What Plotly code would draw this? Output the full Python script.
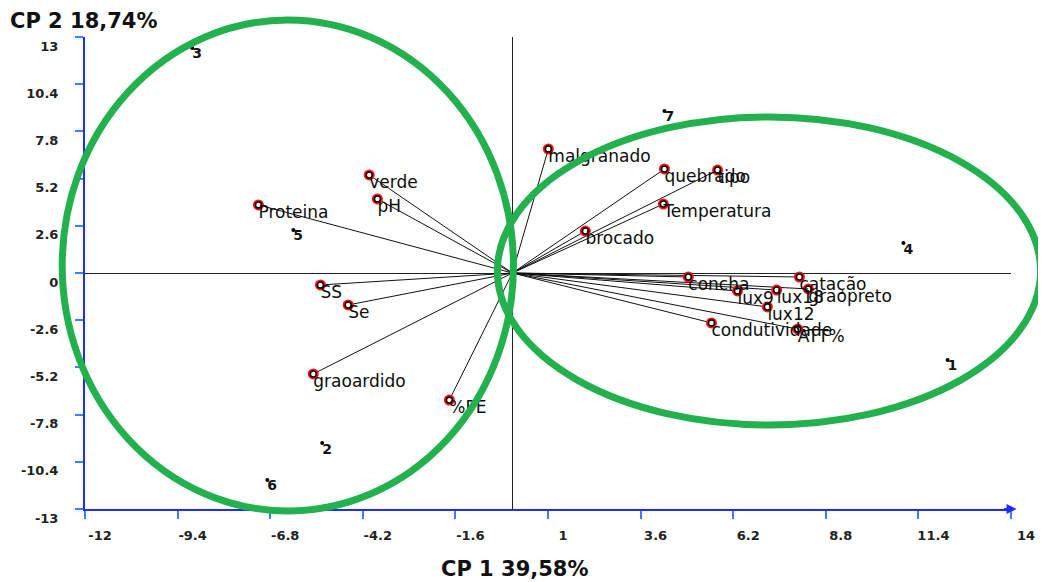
import plotly.graph_objects as go

# ---- data ----
var_names = ["malgranado", "quebrado", "tipo", "Temperatura", "brocado", "concha",
             "catação", "lux9", "lux18", "graopreto", "lux12", "condutividade", "ATT%",
             "verde", "pH", "Proteina", "SS", "Se", "graoardido", "%PE"]
var_cp1 = [1.01, 4.27, 5.76, 4.24, 2.05, 4.94,
           8.06, 6.32, 7.42, 8.31, 7.16, 5.59, 8.01,
           -4.02, -3.79, -7.13, -5.39, -4.61, -5.59, -1.77]
var_cp2 = [6.83, 5.73, 5.67, 3.80, 2.31, -0.22,
           -0.22, -0.99, -0.94, -0.88, -1.87, -2.75, -3.09,
           5.40, 4.08, 3.75, -0.66, -1.76, -5.56, -7.00]

obs_names = ["1", "2", "3", "4", "5", "6", "7"]
obs_cp1 = [12.22, -5.34, -8.99, 10.98, -6.15, -6.88, 4.27]
obs_cp2 = [-4.79, -9.37, 12.40, 1.65, 2.37, -11.40, 8.93]

tick_vals_x = [-12, -9.4, -6.8, -4.2, -1.6, 1, 3.6, 6.2, 8.8, 11.4, 14]
tick_text_x = ["-12", "-9.4", "-6.8", "-4.2", "-1.6", "1", "3.6", "6.2", "8.8", "11.4", "14"]
tick_vals_y = [-13, -10.4, -7.8, -5.2, -2.6, 0, 2.6, 5.2, 7.8, 10.4, 13]
tick_text_y = ["-13", "-10.4", "-7.8", "-5.2", "-2.6", "0", "2.6", "5.2", "7.8", "10.4", "13"]

x_range = [-12, 14]
y_range = [-13, 13]

# group ellipses (data units: x0, x1, y0, y1)
ellipses = [(-12.64, 0.03, -13.11, 13.94), (-0.42, 14.83, -8.37, 8.60)]

GREEN = "rgb(34,177,76)"
BLUE = "#1f2cff"

fig = go.Figure()

# loading vectors from the origin
lx, ly = [], []
for vx, vy in zip(var_cp1, var_cp2):
    lx += [0, vx, None]
    ly += [0, vy, None]
fig.add_trace(go.Scatter(x=lx, y=ly, mode="lines",
                         line=dict(color="#111111", width=1), hoverinfo="skip",
                         showlegend=False))

# variable markers: red halo + black ring + white centre
fig.add_trace(go.Scatter(x=var_cp1, y=var_cp2, mode="markers",
                         marker=dict(size=11, color="#ff1010"), hoverinfo="skip",
                         showlegend=False))
fig.add_trace(go.Scatter(x=var_cp1, y=var_cp2, mode="markers",
                         marker=dict(size=6, color="white", line=dict(color="black", width=1.6)),
                         showlegend=False))
# variable labels
fig.add_trace(go.Scatter(x=var_cp1, y=var_cp2, mode="text",
                         text=var_names, textposition="bottom right",
                         textfont=dict(family="DejaVu Sans", size=17, color="#0d0d0d"),
                         showlegend=False))

# observations
fig.add_trace(go.Scatter(x=obs_cp1, y=obs_cp2, mode="markers",
                         marker=dict(size=4, color="black"),
                         showlegend=False))
fig.add_trace(go.Scatter(x=obs_cp1, y=obs_cp2, mode="text",
                         text=obs_names, textposition="bottom right",
                         textfont=dict(family="DejaVu Sans", size=14, color="#141414", weight="bold"),
                         showlegend=False))


def fx(v):
    return (v - x_range[0]) / (x_range[1] - x_range[0])


def fy(v):
    return (v - y_range[0]) / (y_range[1] - y_range[0])


for x0, x1, y0, y1 in ellipses:
    fig.add_shape(type="circle", xref="x domain", yref="y domain",
                  x0=fx(x0), x1=fx(x1), y0=fy(y0), y1=fy(y1),
                  line=dict(color=GREEN, width=7), layer="above")

# arrow at the end of the x axis
fig.add_annotation(xref="x domain", yref="y domain", x=1.006, y=0,
                   ax=-14, ay=0, axref="pixel", ayref="pixel",
                   showarrow=True, arrowhead=2, arrowsize=1, arrowwidth=2,
                   arrowcolor=BLUE, text="")

# axis titles
fig.add_annotation(xref="paper", yref="paper", x=0.464, y=-0.128,
                   xanchor="center", yanchor="middle", showarrow=False,
                   text="CP 1 39,58%",
                   font=dict(family="DejaVu Sans", size=21, color="#111111", weight="bold"))
fig.add_annotation(xref="paper", yref="paper", x=-0.083, y=1.033,
                   xanchor="left", yanchor="middle", showarrow=False,
                   text="CP 2 18,74%",
                   font=dict(family="DejaVu Sans", size=21, color="#111111", weight="bold"))

tickfont = dict(family="DejaVu Sans", size=13, color="#222222", weight="bold")

fig.update_xaxes(range=x_range, showgrid=False, zeroline=True, zerolinecolor="#222222",
                 zerolinewidth=1, showline=True, linecolor=BLUE, linewidth=2,
                 ticks="outside", ticklen=8, tickcolor="#3f7fff", tickwidth=1.5,
                 tickvals=tick_vals_x, ticktext=tick_text_x, tickfont=tickfont,
                 ticklabelshift=15, ticklabelstandoff=5, fixedrange=True)
fig.update_yaxes(range=y_range, showgrid=False, zeroline=True, zerolinecolor="#222222",
                 zerolinewidth=1, showline=True, linecolor=BLUE, linewidth=2,
                 ticks="outside", ticklen=8, tickcolor="#3f7fff", tickwidth=1.5,
                 tickvals=tick_vals_y, ticktext=tick_text_y, tickfont=tickfont,
                 ticklabelshift=9, ticklabelstandoff=14, fixedrange=True)

fig.update_layout(width=1038, height=574,
                  margin=dict(l=77, r=35, t=29, b=73),
                  plot_bgcolor="white", paper_bgcolor="white",
                  showlegend=False)

fig.write_html("out.html")
